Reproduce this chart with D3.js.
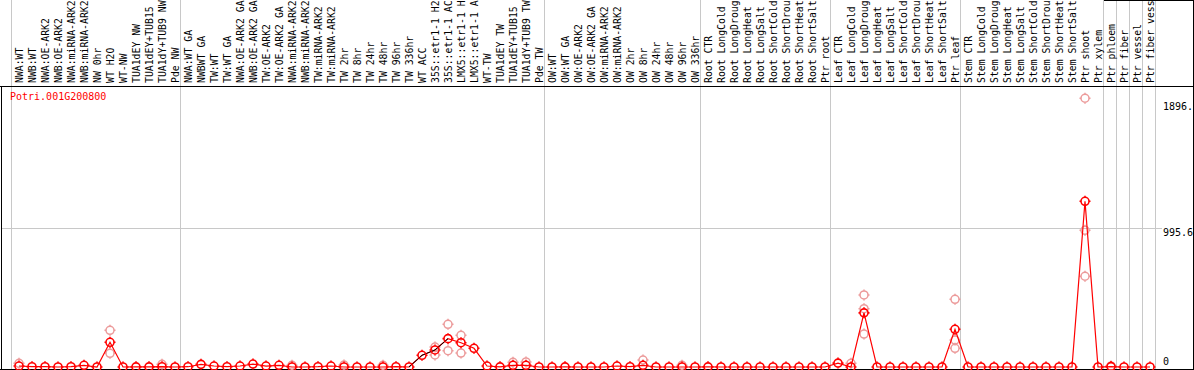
<!DOCTYPE html>
<html>
<head>
<meta charset="utf-8">
<script src="https://cdn.jsdelivr.net/npm/d3@7"></script>
<style>
  html, body { margin: 0; padding: 0; background: #fff; }
  svg { display: block; }
  text { font-family: "DejaVu Sans Mono", monospace; font-size: 10px; }
</style>
</head>
<body>
<svg id="chart" width="1194" height="370"></svg>
<script>
// sample labels, in column order
const samples = [
  "NWA:WT", "NWB:WT", "NWA:OE-ARK2", "NWB:OE-ARK2", "NWA:miRNA-ARK2", "NWB:miRNA-ARK2",
  "NW 0hr", "WT H2O", "WT-NW", "TUA1dEY NW", "TUA1dEY+TUB15 NW", "TUA1dY+TUB9 NW", "Pde NW",
  "NWA:WT GA", "NWBWT GA", "TW:WT", "TW:WT GA", "NWA:OE-ARK2 GA", "NWB:OE-ARK2 GA",
  "TW:OE-ARK2", "TW:OE-ARK2 GA", "NWA:miRNA-ARK2", "NWB:miRNA-ARK2", "TW:miRNA-ARK2",
  "TW:miRNA-ARK2 GA", "TW 2hr", "TW 8hr", "TW 24hr", "TW 48hr", "TW 96hr", "TW 336hr",
  "WT ACC", "35S::etr1-1 H2O", "35S::etr1-1 ACC", "LMX5::etr1-1 H2O", "LMX5::etr1-1 ACC",
  "WT-TW", "TUA1dEY TW", "TUA1dEY+TUB15 TW", "TUA1dY+TUB9 TW", "Pde TW",
  "OW:WT", "OW:WT GA", "OW:OE-ARK2", "OW:OE-ARK2 GA", "OW:miRNA-ARK2", "OW:miRNA-ARK2 GA",
  "OW 2hr", "OW 8hr", "OW 24hr", "OW 48hr", "OW 96hr", "OW 336hr",
  "Root CTR", "Root LongCold", "Root LongDrought", "Root LongHeat", "Root LongSalt",
  "Root ShortCold", "Root ShortDrought", "Root ShortHeat", "Root ShortSalt", "Ptr root",
  "Leaf CTR", "Leaf LongCold", "Leaf LongDrought", "Leaf LongHeat", "Leaf LongSalt",
  "Leaf ShortCold", "Leaf ShortDrought", "Leaf ShortHeat", "Leaf ShortSalt", "Ptr leaf",
  "Stem CTR", "Stem LongCold", "Stem LongDrought", "Stem LongHeat", "Stem LongSalt",
  "Stem ShortCold", "Stem ShortDrought", "Stem ShortHeat", "Stem ShortSalt", "Ptr shoot",
  "Ptr xylem", "Ptr phloem", "Ptr fiber", "Ptr vessel", "Ptr fiber vessel"
];

// the header only shows this many characters of a label
const labelChars = 14;

// first sample of every group (separator drawn before it)
const groupStarts = [0, 13, 41, 53, 63, 73, 84, 85, 86, 87, 88];

// mean expression per sample
const means = [
  7, 2, 2, 0, 2, 12, 0, 177, 0, 1, 1, 2, 0,
  2, 19, 7, 2, 7, 21, 7, 12, 0, 0, 2, 7, 0, 0, 0, 0, 2, 0,
  84, 122, 203, 174, 134, 7, 1, 12, 12, 0,
  0, 1, 0, 0, 0, 7, 2, 12, 0, 0, 0, 0,
  1, 0, 0, 0, 0, 0, 0, 0, 0, 0,
  28, 0, 388, 0, 0, 0, 0, 0, 0, 270,
  0, 0, 0, 0, 0, 0, 0, 0, 0, 1187, 0,
  3, 0, 0, 0
];

// replicate values that show apart from the mean
const repIndex = [0, 7, 7, 11, 21, 25, 28, 32, 32, 33, 33, 34, 34, 38, 39, 48, 51,
                  64, 65, 65, 65, 72, 72, 72, 82, 82, 82, 84];
const repValue = [26, 263, 98, 19, 12, 14, 12, 143, 86, 306, 117, 227, 100, 34, 36, 50, 12,
                  26, 516, 418, 236, 485, 193, 134, 1925, 979, 650, 8];

// segment of the mean line drawn in black
const blackFrom = 30, blackTo = 33;

const yTicks = [0, 995.6];
const yMaxLabel = "1896.";
const yMaxLabelValue = 1896;
const geneName = "Potri.001G200800";

const svg = d3.select("#chart");
const W = 1194, H = 370;

const x = d3.scalePoint()
  .domain(d3.range(samples.length))
  .range([19, 19 + 13 * (samples.length - 1)]);
const y = d3.scaleLinear().domain([0, 1991.2]).range([367, 89]);

const headerY = 86.5;
const bottomY = 369.5;
const rightEdge = 1156;

const sepX = d => Math.round((d < samples.length ? x(d) : x(samples.length - 1) + 13) - 8) + 0.5;

// group separators
svg.append("g")
  .selectAll("line")
  .data(groupStarts)
  .join("line")
  .attr("x1", sepX)
  .attr("x2", sepX)
  .attr("y1", 0)
  .attr("y2", bottomY)
  .attr("stroke", "#c8c8c8")
  .attr("stroke-width", 1);

// horizontal grid line
svg.append("g")
  .selectAll("line")
  .data(yTicks.filter(d => d > 0))
  .join("line")
  .attr("x1", 1)
  .attr("x2", 1162)
  .attr("y1", d => Math.round(y(d)) + 0.5)
  .attr("y2", d => Math.round(y(d)) + 0.5)
  .attr("stroke", "#c8c8c8");

// frame lines
svg.append("line")
  .attr("x1", 0).attr("x2", W)
  .attr("y1", headerY).attr("y2", headerY)
  .attr("stroke", "#000");
svg.append("line")
  .attr("x1", 0).attr("x2", W)
  .attr("y1", bottomY).attr("y2", bottomY)
  .attr("stroke", "#000");
svg.append("line")
  .attr("x1", 1.5).attr("x2", 1.5)
  .attr("y1", headerY).attr("y2", bottomY)
  .attr("stroke", "#000");
svg.append("line")
  .attr("x1", W - 0.5).attr("x2", W - 0.5)
  .attr("y1", 0).attr("y2", bottomY)
  .attr("stroke", "#000");
svg.append("line")
  .attr("x1", rightEdge - 52).attr("x2", W)
  .attr("y1", 0.5).attr("y2", 0.5)
  .attr("stroke", "#000");

// sample labels, rotated
svg.append("g")
  .selectAll("text")
  .data(samples)
  .join("text")
  .attr("transform", (d, i) => "translate(" + (x(i) + 3.5) + ",83) rotate(-90)")
  .attr("fill", "#000")
  .style("font-size", "9.8px")
  .text(d => d.slice(0, labelChars));

// gene name
svg.append("text")
  .attr("x", 10)
  .attr("y", 100)
  .attr("fill", "#ff0000")
  .text(geneName);

// y labels
svg.append("text")
  .attr("x", 1163)
  .attr("y", y(995.6) + 8)
  .text("995.6");
svg.append("text")
  .attr("x", 1163)
  .attr("y", y(0) - 2)
  .text("0");
svg.append("text")
  .attr("x", 1163)
  .attr("y", y(yMaxLabelValue) + 8)
  .text(yMaxLabel);

// marker: circle with small ticks
const r = 4;
const marker = "M" + (-r) + ",0A" + r + "," + r + " 0 1,0 " + r + ",0A" + r + "," + r + " 0 1,0 " + (-r) + ",0"
  + "M0," + (-r - 1.5) + "V" + (-r + 0.5)
  + "M0," + (r - 0.5) + "V" + (r + 1.5)
  + "M" + (-r - 1.5) + ",0H" + (-r + 0.5)
  + "M" + (r - 0.5) + ",0H" + (r + 1.5);

// replicate points
svg.append("g")
  .selectAll("path")
  .data(repIndex.map((d, i) => ({ i: d, v: repValue[i] })))
  .join("path")
  .attr("transform", d => "translate(" + x(d.i) + "," + y(d.v) + ")")
  .attr("d", marker)
  .attr("fill", "none")
  .attr("stroke", "#ec9a9a")
  .attr("stroke-width", 1.5);

// mean line
const line = d3.line()
  .x((d, i) => x(i))
  .y(d => y(d));

svg.append("path")
  .attr("d", line(means))
  .attr("fill", "none")
  .attr("stroke", "#ff0000")
  .attr("stroke-width", 1.2);

svg.append("path")
  .attr("d", d3.line().x(d => x(d)).y(d => y(means[d]))(d3.range(blackFrom, blackTo + 1)))
  .attr("fill", "none")
  .attr("stroke", "#000")
  .attr("stroke-width", 1);

// mean points
svg.append("g")
  .selectAll("path")
  .data(means)
  .join("path")
  .attr("transform", (d, i) => "translate(" + x(i) + "," + y(d) + ")")
  .attr("d", marker)
  .attr("fill", "none")
  .attr("stroke", "#ff0000")
  .attr("stroke-width", 1.6);
</script>
</body>
</html>
